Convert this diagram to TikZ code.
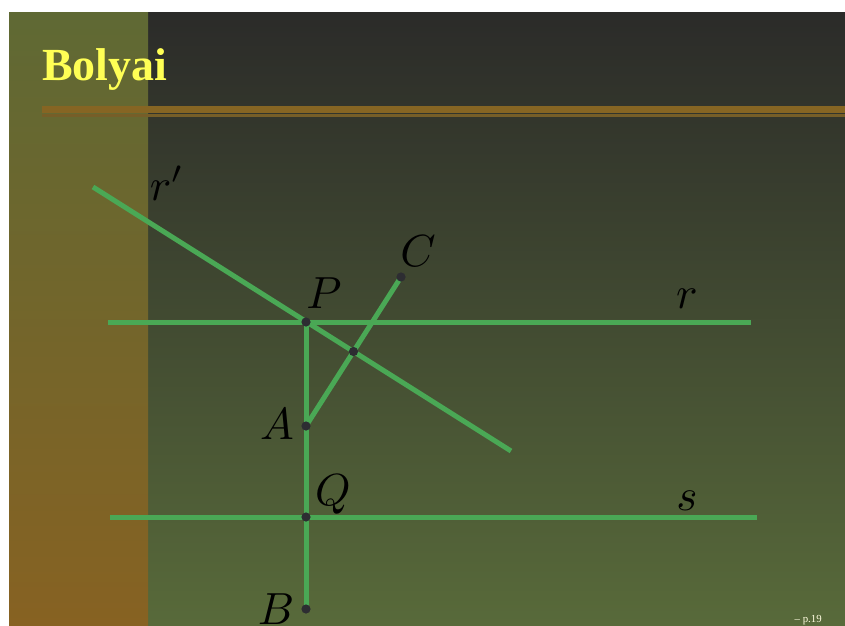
\documentclass[tikz,border=0pt]{standalone}
\usepackage{fontspec}
\usepackage{tikz}
\usetikzlibrary{arrows.meta,calc}
\newfontfamily\slidefont[Ligatures=TeX]{Liberation Serif}

\definecolor{bgtop}{RGB}{43,43,41}
\definecolor{bgbot}{RGB}{88,106,58}
\definecolor{bartop}{RGB}{95,105,52}
\definecolor{barbot}{RGB}{135,98,34}
\definecolor{rulegold}{RGB}{134,101,35}
\definecolor{rulethin}{RGB}{118,94,40}
\definecolor{titleyellow}{RGB}{255,255,85}
\definecolor{linegreen}{RGB}{74,168,85}
\definecolor{dotgray}{RGB}{45,45,50}

\begin{document}
\begin{tikzpicture}[x=0.025cm,y=-0.025cm,line join=round,
  geo/.style={draw=linegreen,line width=3.55pt},
  lbl/.style={anchor=base,scale=3.2,text=black}]

%% ---------------- slide background ----------------
\useasboundingbox (0,0) rectangle (845,625);
\fill[white] (0,0) rectangle (845,625);
\shade[top color=bgtop,bottom color=bgbot] (9,12) rectangle (845,625);
\shade[top color=bartop,bottom color=barbot] (9,12) rectangle (148,625);
\fill[rulegold] (42,106) rectangle (845,112.5);
\fill[rulethin] (42,114) rectangle (845,116.5);
\node[anchor=base west,inner sep=0,text=titleyellow,
      font=\slidefont\bfseries\fontsize{32.7}{36}\selectfont] (title) at (42,80) {Bolyai};
\node[anchor=base east,inner sep=0,text=white!88!yellow,
      font=\slidefont\fontsize{7.7}{9}\selectfont] (pageno) at (822,622) {– p.19};

%% ---------------- the construction ----------------
\coordinate (P) at (306,322);
\coordinate (A) at (306,426);
\coordinate (Q) at (306,517);
\coordinate (B) at (306,609);
\coordinate (C) at (401,277);
\coordinate (M) at ($(A)!0.5!(C)$);
\coordinate (r1) at (108,322);
\coordinate (r2) at (751,322);
\coordinate (s1) at (110,517);
\coordinate (s2) at (757,517);
\coordinate (rp1) at (93,187);
\coordinate (rp2) at (511,451);

%% lines r, s, r' and the two segments
\draw[geo] (r1) -- (r2);
\draw[geo] (s1) -- (s2);
\draw[geo] (rp1) -- (rp2);
\draw[geo] (P) -- (B);
\draw[geo] (A) -- (C);

%% points
\foreach \p in {P,A,Q,B,C,M}
  \fill[dotgray] (\p) circle (4.6);

%% labels
\node[lbl] (lrp) at (167,200) {$r'$};
\node[lbl] (lP) at (324,308) {$P$};
\node[lbl] (lC) at (418,266) {$C$};
\node[lbl] (lr) at (687,308) {$r$};
\node[lbl] (lA) at (277,439) {$A$};
\node[lbl] (lQ) at (333,505) {$Q$};
\node[lbl] (ls) at (687,510) {$s$};
\node[lbl] (lB) at (276,624) {$B$};

\end{tikzpicture}
\end{document}
